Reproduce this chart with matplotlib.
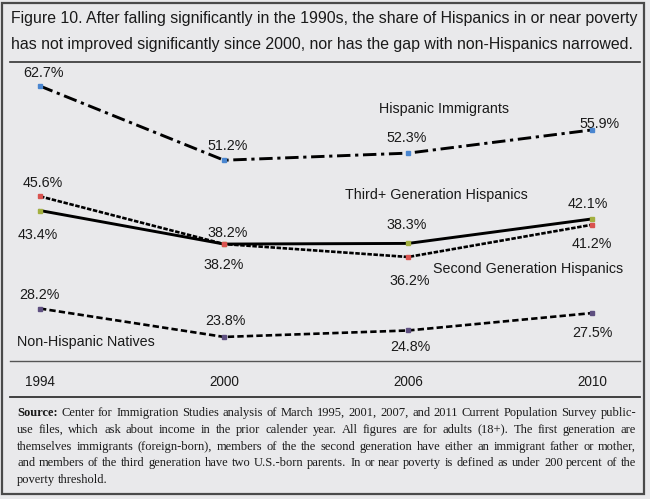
import matplotlib
matplotlib.use('Agg')
import matplotlib.pyplot as plt
from matplotlib import font_manager as fm
from matplotlib.transforms import blended_transform_factory
from matplotlib.patches import Rectangle
from matplotlib.lines import Line2D

# ---------------- data ----------------
years = ['1994', '2000', '2006', '2010']
immigrants = [62.7, 51.2, 52.3, 55.9]
second_gen = [45.6, 38.2, 36.2, 41.2]
third_gen = [43.4, 38.2, 38.3, 42.1]
natives = [28.2, 23.8, 24.8, 27.5]

series_names = ['Hispanic Immigrants', 'Third+ Generation Hispanics',
                'Second Generation Hispanics', 'Non-Hispanic Natives']

title_lines = [
    "Figure 10. After falling significantly in the 1990s, the share of Hispanics in or near poverty",
    "has not improved significantly since 2000, nor has the gap with non-Hispanics narrowed.",
]
note_lines = [
    "Source: Center for Immigration Studies analysis of March 1995, 2001, 2007, and 2011 Current Population Survey public-",
    "use files, which ask about income in the prior calender year. All figures are for adults (18+). The first generation are",
    "themselves immigrants (foreign-born), members of the the second generation have either an immigrant father or mother,",
    "and members of the third generation have two U.S.-born parents. In or near poverty is defined as under 200 percent of the",
    "poverty threshold.",
]

# ---------------- fonts ----------------
def has_font(name):
    try:
        fm.findfont(fm.FontProperties(family=name), fallback_to_default=False)
        return True
    except Exception:
        return False

SANS = 'Liberation Sans Narrow' if has_font('Liberation Sans Narrow') else 'Liberation Sans'
SERIF = 'Liberation Serif'

W, H = 650, 499
BG = '#e9e9eb'
fig = plt.figure(figsize=(W / 100, H / 100), dpi=100)
fig.patch.set_facecolor(BG)
renderer = fig.canvas.get_renderer()

def fx(px):
    return px / W

def fy(py):
    return 1 - py / H

def text_width(s, **kw):
    t = fig.text(0, 0, s, **kw)
    w = t.get_window_extent(renderer).width
    t.remove()
    return w

def fit_size(s, target, family, weight='normal', base=12):
    w = text_width(s, fontsize=base, family=family, weight=weight)
    return base * target / w

# outer frame
fig.add_artist(Rectangle((fx(2), fy(494)), fx(644) - fx(2), fy(3) - fy(494),
                         transform=fig.transFigure, fill=False,
                         edgecolor='#4a4a4a', linewidth=1.6))

# ---------------- title ----------------
tsize = fit_size(title_lines[1], 625, SANS)
fig.text(fx(11), fy(19), title_lines[0], fontsize=tsize, family=SANS,
         color='#1a1a1a', va='center', ha='left')
fig.text(fx(11), fy(45), title_lines[1], fontsize=tsize, family=SANS,
         color='#1a1a1a', va='center', ha='left')

# separators
for ypix, col, lw in [(62, '#333333', 1.2), (361, '#555555', 1.0), (397, '#333333', 1.3)]:
    fig.add_artist(Line2D([fx(10), fx(640)], [fy(ypix), fy(ypix)],
                          transform=fig.transFigure, color=col, linewidth=lw))

# ---------------- axes ----------------
ax = fig.add_axes([fx(10), fy(361), fx(640) - fx(10), fy(62) - fy(361)])
ax.set_facecolor('none')
ax.axis('off')
x = list(range(len(years)))
ax.set_xlim(-0.163, 3.26)
ax.set_ylim(23.8 - (361 - 337) / 6.43, 62.7 + (86 - 62) / 6.43)

ax.plot(x, immigrants, color='black', lw=2.1, linestyle=(0, (4.6, 1.6, 1.1, 1.6)),
        marker='s', ms=2.6, mfc='#4a86d0', mec='#4a86d0', zorder=3)
ax.plot(x, third_gen, color='black', lw=2.1, linestyle='-',
        marker='s', ms=2.6, mfc='#a3b040', mec='#a3b040', zorder=3)
ax.plot(x, second_gen, color='black', lw=1.9, linestyle=(0, (1.7, 0.6)),
        marker='s', ms=2.6, mfc='#d9534f', mec='#d9534f', zorder=4)
ax.plot(x, natives, color='black', lw=1.9, linestyle=(0, (2.4, 1.2)),
        marker='s', ms=2.6, mfc='#5e4f80', mec='#5e4f80', zorder=3)

lsize = fit_size(series_names[0], 129, SANS)

def lab(series, offsets):
    for xi, (v, (dx, dy)) in enumerate(zip(series, offsets)):
        ax.annotate(f"{v:.1f}%", (xi, v), xytext=(dx, dy), textcoords='offset pixels',
                    ha='center', va='center', fontsize=lsize, family=SANS, color='#1a1a1a')

lab(immigrants, [(3, 13), (4, 14), (-1, 15), (7, 6)])
lab(second_gen, [(3, 13), (0, -21), (2, -24), (0, -19)])
lab(third_gen, [(-2, -24), (4, 11), (-1, 18), (-4, 15)])
lab(natives, [(-1, 14), (1, 16), (2, -17), (0, -20)])

fig.text(fx(444), fy(109), series_names[0], fontsize=lsize, family=SANS,
         ha='center', va='center', color='#1a1a1a')
fig.text(fx(436), fy(195), series_names[1], fontsize=lsize, family=SANS,
         ha='center', va='center', color='#1a1a1a')
fig.text(fx(433), fy(269), series_names[2], fontsize=lsize, family=SANS,
         ha='left', va='center', color='#1a1a1a')
fig.text(fx(17), fy(342), series_names[3], fontsize=lsize, family=SANS,
         ha='left', va='center', color='#1a1a1a')

# year labels
tr = blended_transform_factory(ax.transData, fig.transFigure)
for xi, yr in enumerate(years):
    ax.text(xi, fy(382), yr, transform=tr, ha='center', va='center',
            fontsize=lsize * 0.95, family=SANS, color='#1a1a1a')

# ---------------- footnote (justified) ----------------
L, R = 17, 636
nat = max(text_width(s, fontsize=10, family=SERIF) for s in note_lines[:4])
nsize = 10 * (R - L) / nat * 0.985
space_w = text_width('a a', fontsize=nsize, family=SERIF) - text_width('aa', fontsize=nsize, family=SERIF)

base0, dyl = 416, 16.8
for i, line in enumerate(note_lines):
    words = line.split(' ')
    weights = ['bold' if (i == 0 and j == 0) else 'normal' for j in range(len(words))]
    widths = [text_width(w_, fontsize=nsize, family=SERIF, weight=wt) for w_, wt in zip(words, weights)]
    if i < len(note_lines) - 1 and len(words) > 1:
        gap = (R - L - sum(widths)) / (len(words) - 1)
    else:
        gap = space_w
    xp = L
    for w_, wt, wd in zip(words, weights, widths):
        fig.text(fx(xp), fy(base0 + i * dyl), w_, fontsize=nsize, family=SERIF, weight=wt,
                 ha='left', va='baseline', color='#1a1a1a')
        xp += wd + gap

fig.savefig('out.png', dpi=100, facecolor=BG)
